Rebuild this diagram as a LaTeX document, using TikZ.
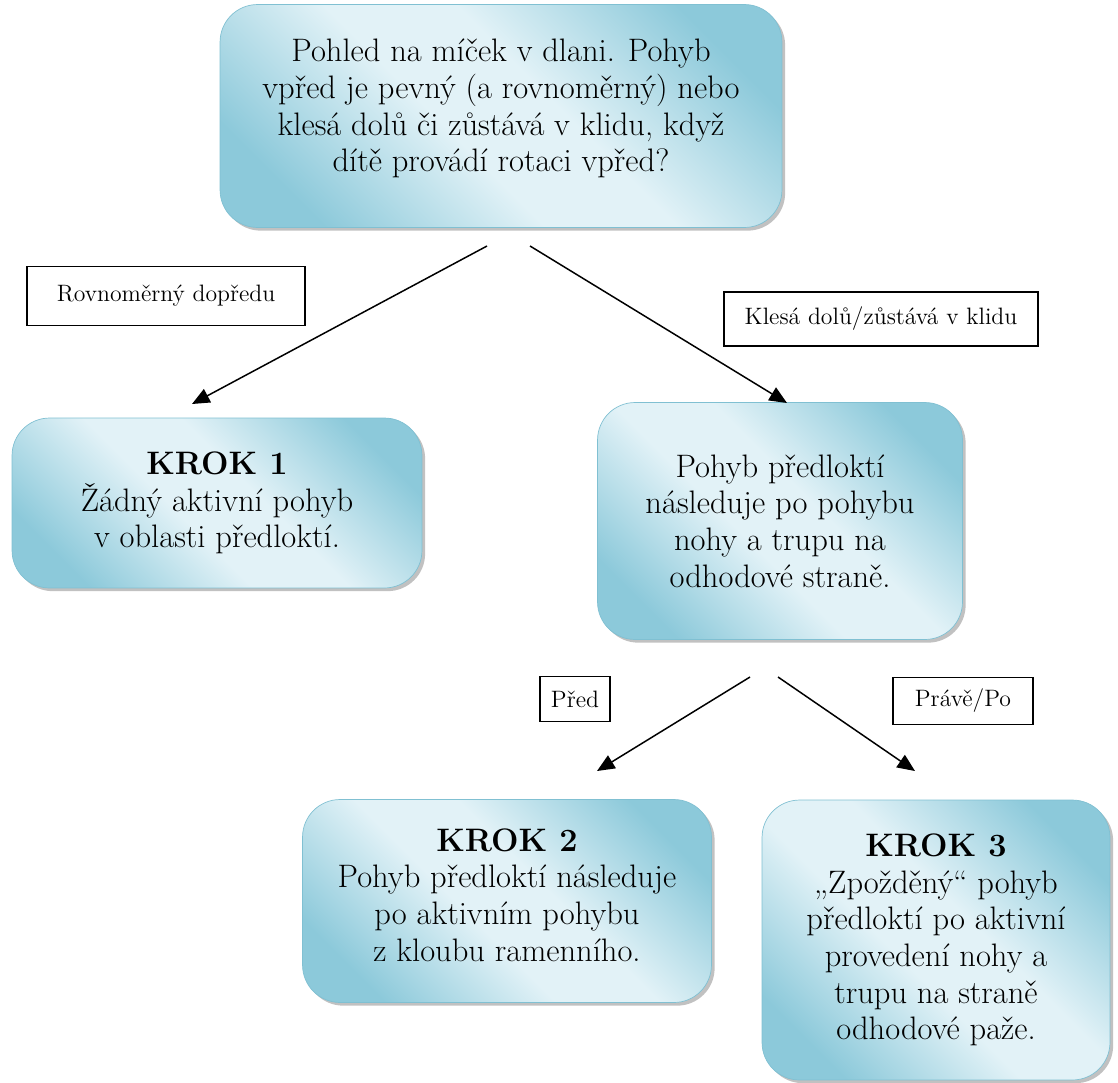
\documentclass[tikz,border=0pt]{standalone}
\usepackage{fontspec}
\usetikzlibrary{arrows.meta,shadows}

\definecolor{bluedark}{RGB}{140,201,218}
\definecolor{bluelight}{RGB}{226,242,247}
\definecolor{blueedge}{RGB}{128,192,210}
\pgfdeclareverticalshading{boxshade}{100bp}{color(0bp)=(bluedark); color(24bp)=(bluedark);
  color(44bp)=(bluelight); color(56bp)=(bluelight); color(76bp)=(bluedark); color(100bp)=(bluedark)}

\begin{document}
\begin{tikzpicture}
            [x=0.02cm,y=-0.02cm,thick,
             box/.style={rounded corners=0.75cm,draw=blueedge,thin,
               shading=boxshade,shading angle=-45,align=center,
               font=\fontsize{18.5}{20.8}\selectfont,
               drop shadow={shadow xshift=1.8pt,shadow yshift=-1.8pt,fill=gray!60,opacity=0.8}},
             tag/.style={draw=black,line width=0.8pt,fill=white,inner sep=0pt,
               font=\fontsize{13.5}{16}\selectfont},
             arr/.style={draw=black,line width=0.85pt,-{Triangle[length=10pt,width=8.5pt]}}]
            \useasboundingbox (0,0) rectangle (1118,1082);

            \node[box,minimum width=11.24cm,minimum height=4.46cm,text depth=12pt] (Q) at (501,116)
              {Pohled na míček v dlani. Pohyb\\vpřed je pevný (a rovnoměrný) nebo\\klesá dolů či zůstává v klidu, když\\dítě provádí rotaci vpřed?};
            \node[box,minimum width=8.2cm,minimum height=3.4cm] (K1) at (217,503)
              {\textbf{KROK 1}\\Žádný aktivní pohyb\\v oblasti předloktí.};
            \node[box,minimum width=7.3cm,minimum height=4.74cm] (M) at (780,521)
              {Pohyb předloktí\\následuje po pohybu\\nohy a trupu na\\odhodové straně.};
            \node[box,minimum width=8.18cm,minimum height=4.06cm,text depth=7pt] (K2) at (507,901)
              {\textbf{KROK 2}\\Pohyb předloktí následuje\\po aktivním pohybu\\z kloubu ramenního.};
            \node[box,minimum width=6.96cm,minimum height=5.6cm] (K3) at (936,940)
              {\textbf{KROK 3}\\„Zpožděný“ pohyb\\předloktí po aktivní\\provedení nohy a\\trupu na straně\\odhodové paže.};

            \node[tag,minimum width=5.56cm,minimum height=1.18cm] (L1) at (166,296) {Rovnoměrný dopředu};
            \node[tag,minimum width=6.28cm,minimum height=1.08cm] (L2) at (881,319) {Klesá dolů/zůstává v klidu};
            \node[tag,minimum width=1.4cm,minimum height=0.9cm] (L3) at (575,699) {Před};
            \node[tag,minimum width=2.8cm,minimum height=0.94cm] (L4) at (963,701) {Právě/Po};

            \coordinate (A1) at (487,246);
            \coordinate (B1) at (192,404);
            \coordinate (A2) at (530,246);
            \coordinate (B2) at (787,403);
            \coordinate (A3) at (750,677);
            \coordinate (B3) at (597,771);
            \coordinate (A4) at (778,677);
            \coordinate (B4) at (915,771);

            \draw[arr] (A1) -- (B1);
            \draw[arr] (A2) -- (B2);
            \draw[arr] (A3) -- (B3);
            \draw[arr] (A4) -- (B4);
        \end{tikzpicture}
\end{document}
